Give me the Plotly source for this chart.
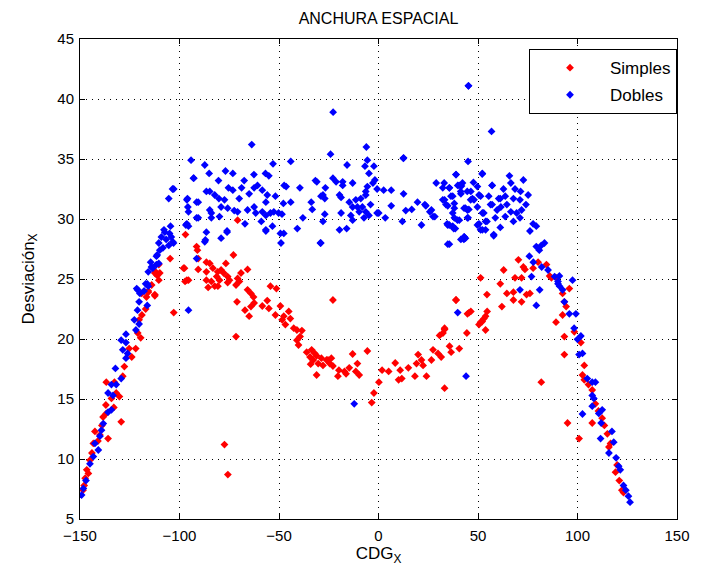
import plotly.graph_objects as go

# ---- Simples (red) ----
simples_x = [
    -148.5, -147.9, -147.4, -145.8, -146.6, -145.0, -144.0, -143.3, -142.5, -141.0, -140.0, -139.0,
    -135.9, -138.4, -136.8, -137.0, -129.3, -134.2, -133.0, -130.2, -131.8, -136.8, -132.7, -128.5,
    -127.7, -125.3, -124.0, -122.0, -121.0, -119.5, -120.3, -118.9, -117.0, -115.7, -114.0, -112.4,
    -112.4, -109.9, -111.2, -110.4, -112.0, -110.4, -116.6, -119.0, -115.7, -112.4, -102.9, -104.7,
    -97.0, -97.5, -96.3,
    -91.4, -91.0, -90.6, -86.5, -84.8, -90.6, -98.0, -86.5, -83.2, -80.8, -76.7, -72.9, -79.1, -77.8,
    -75.8, -81.3, -86.5, -84.0, -95.5, -97.2, -79.9, -74.9, -70.8, -65.8, -69.1, -69.9, -82.3, -85.6,
    -80.7, -75.8, -71.6, -65.8, -64.1, -62.8, -71.1, -62.5, -64.1, -67.1, -65.0, -58.4, -55.9, -55.1,
    -54.3, -51.3, -51.8, -49.3, -47.6, -48.4, -46.8, -45.1, -44.3, -42.6, -41.0, -38.5, -39.4, -41.0,
    -40.2, -36.1, -33.6, -32.0, -34.4, -32.8, -31.1, -34.1, -30.3, -26.1, -24.5, -23.7, -22.9, -19.9,
    -17.1, -31.1, -20.4, -71.6, -77.4, -75.7, -22.9, -70.8, -28.7, -27.9, -25.4, -16.3, -14.7,
    -13.0, -10.6, -11.4, -9.7, -5.6, 0.2, -2.3, -3.4, 1.8, 5.1, 8.4, 10.9, 10.1, 11.7, 15.0, 18.3,
    19.1, 19.9, 21.6, 22.4, 24.1, 26.6, 27.4, 29.9, 31.5, 32.4, 30.7, 33.2, 35.7, 36.5, 33.2, 40.6,
    44.4, 45.5, 46.4, 50.5, 51.3, 53.0, 54.6, 53.8, 38.9,
    70.3, 72.8, 73.6, 62.9, 80.2, 84.4, 77.7, 68.6, 71.9, 51.3, 61.2, 54.5, 64.5, 67.8, 74.4, 76.1,
    67.8, 71.9, 62.0, 39.0, 44.7, 53.8, 52.1, 33.2, 86.9, 89.5, 86.0, 92.5, 95.9, 93.4, 94.3, 92.5,
    89.2, 93.4, 98.4, 101.7, 93.4, 103.4, 102.5, 103.4, 107.4, 109.0, 112.4, 107.4, 81.8, 95.0,
    100.8, 115.0, 115.8, 116.6, 119.9, 119.1, 122.3, 123.1, 113.5, 110.5, 105.5, 121.0,
]
simples_y = [
    7.4, 7.8, 8.4, 8.8, 9.1, 9.9, 10.5, 11.3, 12.3, 11.5, 12.0, 12.8,
    11.7, 13.5, 13.8, 14.5, 13.1, 15.05, 14.3, 15.2, 15.5, 16.4, 16.4, 16.9,
    17.7, 19.2, 18.5, 19.2, 20.5, 20.1, 21.6, 22.0, 22.5, 24.0, 24.5, 23.6,
    25.5, 25.5, 25.3, 24.9, 25.6, 26.2, 23.5, 23.8, 23.9, 23.7, 22.2, 26.7,
    28.7, 25.9, 24.9,
    27.7, 27.4, 26.7, 26.4, 26.3, 25.8, 25.9, 25.6, 25.9, 25.6, 26.3, 27.0, 25.75, 25.5,
    25.2, 25.2, 24.9, 24.8, 24.9, 24.8, 24.9, 24.9, 25.05, 25.8, 25.5, 24.8, 24.4, 24.3,
    24.4, 24.7, 24.5, 24.1, 23.8, 23.5, 23.1, 23.0, 22.7, 22.4, 21.9, 22.75, 23.2, 22.55,
    24.4, 24.2, 22.0, 22.75, 21.9, 21.6, 21.2, 22.3, 21.7, 20.9, 20.75, 20.7, 20.2, 19.9,
    19.5, 18.9, 19.1, 18.8, 18.5, 18.25, 18.6, 17.9, 17.95, 18.25, 17.95, 18.4, 17.75, 17.4,
    17.3, 17.0, 16.9, 20.2, 11.2, 8.7, 23.25, 29.9, 18.4, 17.8, 18.25, 17.1, 17.6,
    18.75, 17.95, 17.3, 17.0, 19.0, 16.4, 15.5, 14.7, 17.4, 17.3, 18.0, 17.4, 16.6, 16.7, 17.6, 16.9,
    17.95, 18.7, 18.25, 17.8, 16.9, 18.25, 19.1, 18.8, 18.5, 20.5, 20.3, 20.8, 19.4, 18.9, 15.9, 19.2,
    20.5, 22.2, 22.3, 21.2, 21.4, 21.7, 22.3, 20.75, 23.25,
    26.6, 26.0, 25.8, 25.75, 26.4, 26.2, 25.9, 25.1, 25.1, 25.1, 24.6, 23.7, 23.8, 23.9, 23.7, 23.8,
    23.25, 23.1, 22.7, 23.25, 22.1, 21.9, 21.45, 20.9, 25.1, 25.1, 25.25, 23.8, 24.2, 23.1, 22.7, 22.0,
    21.4, 20.2, 20.6, 19.7, 18.7, 17.8, 17.0, 16.6, 15.75, 14.6, 13.4, 13.0, 16.4, 13.0,
    11.7, 12.1, 11.0, 11.3, 9.5, 8.9, 7.4, 7.2, 12.8, 14.0, 16.2, 8.2,
]

# ---- Dobles (blue) ----
dobles_x = [
    -149.2, -148.3, -147.0, -145.0, -143.3, -140.8, -142.5, -140.0, -139.2, -138.3, -135.9, -134.2,
    -133.4, -135.9, -134.2, -131.8, -129.3, -132.2, -126.9, -126.1, -128.5, -126.9, -129.3, -126.9,
    -121.9, -120.3, -122.7, -121.1, -116.2, -120.3, -117.8, -121.1, -116.2, -113.4, -110.4, -114.5,
    -111.2, -105.4, -103.0, -110.4, -104.1, -107.4, -115.7, -114.1, -111.6, -111.6, -109.9, -108.3,
    -103.4, -106.7, -109.1, -105.0, -107.8, -104.5, -115.7, -117.0, -121.5, -119.9, -102.9, -105.4,
    -94.2, -93.0, -96.3, -91.4, -95.8, -95.5, -96.3, -91.4, -91.4, -87.3, -85.1, -76.9, -73.2, -92.8,
    -80.4, -67.5, -62.6, -56.8, -55.1, -53.0, -44.1, -31.7, -103.5, -96.0, -90.6, -86.5, -84.8, -82.3,
    -80.2, -77.4, -75.4, -73.2, -70.0, -68.8, -65.0, -62.5, -60.8, -58.4, -55.9, -56.6, -51.8, -47.4,
    -46.4, -47.8, -44.1, -39.5, -33.8, -33.3, -38.0, -28.9, -84.8, -84.0, -79.1, -75.8, -72.5, -70.8,
    -65.8, -62.5, -61.7, -58.4, -56.6, -54.3, -52.6, -50.2, -48.5, -79.9, -84.0, -90.6, -95.5, -96.8,
    -86.5, -76.1, -79.1, -67.1, -56.6, -53.3, -58.9, -49.3, -49.0, -40.8, -29.2, -87.0, -63.7, -95.5,
    -87.3, -76.1, -47.6, -56.6, -22.8,
    -24.1, -6.1, -5.6, -2.3, -6.8, -15.8, -4.8, -1.8, -2.8, -5.6, -6.4, -0.7, 2.6, 6.4, 12.6, 12.6,
    6.4, 19.6, 16.7, 13.7, 23.8, 25.8, 27.4, 21.6, 12.0, 3.4, 0.1, -22.9, -21.3, -18.0, -18.0, -13.0,
    -26.7, -27.9, -27.0, -19.6, -18.8, -14.7, -11.4, -8.9, -6.4, -13.0, -10.6, -8.1, -9.7, -6.4, -4.8,
    -7.3, -13.9, -13.0, -18.8, -27.0, -27.9, -19.6, -16.0, -29.0, -4.0, -0.7, -31.0,
    29.0, 32.3, 35.6, 38.9, 40.5, 42.2, 45.0, 41.3, 44.6, 46.3, 32.3, 36.4, 38.1, 34.8, 43.7, 45.4,
    37.3, 38.1, 39.7, 45.0, 35.6, 38.6, 42.9, 43.7, 35.6, 45.2, 56.8, 52.2, 57.1, 46.4, 49.7, 51.3,
    48.0, 56.3, 52.2, 53.8, 61.2, 50.5, 52.2, 57.9, 43.1, 34.5, 37.3,
    39.0, 52.1, 65.8, 72.8, 33.0, 35.6, 39.8, 41.7, 47.7, 57.1, 62.8, 66.5, 68.6, 71.4, 75.2, 33.2,
    37.3, 41.4, 47.2, 50.5, 55.4, 60.4, 63.7, 67.8, 71.1, 74.1, 23.3, 26.6, 28.3, 33.9, 38.1, 43.0,
    44.7, 49.7, 52.9, 57.1, 59.6, 61.5, 64.5, 66.5, 69.4, 71.9, 63.7, 67.8, 71.1, 58.7, 54.5, 49.7,
    51.3, 53.8, 61.2, 57.9, 44.7, 40.6, 34.8, 37.8, 41.4, 43.0, 34.8,
    77.7, 79.3, 76.1, 79.3, 81.8, 83.4, 80.8, 75.8, 77.8, 82.0, 85.2, 88.5, 90.2, 91.0, 76.9, 81.0,
    71.1, 79.3, 90.2, 90.9, 92.5, 97.5, 95.9, 99.2, 98.3, 93.4, 101.7, 100.0, 102.5, 100.8, 104.9,
    107.4, 109.0, 107.4, 108.2, 112.4, 110.7, 107.4, 102.5, 111.9, 111.6, 117.3, 118.2, 115.8, 119.4,
    120.7, 121.5, 123.1, 124.3, 125.6, 126.4,
    -12.2, 44.0, 39.8, 45.2, 12.5,
]
dobles_y = [
    7.0, 7.55, 8.2, 9.6, 10.2, 10.75, 11.3, 11.9, 12.4, 12.95, 13.9, 14.1,
    15.3, 15.5, 16.2, 16.2, 16.7, 17.55, 18.4, 18.8, 19.1, 19.7, 19.9, 20.4,
    20.75, 21.25, 21.6, 22.4, 22.8, 23.1, 24.0, 24.1, 24.6, 25.9, 26.3, 26.4,
    27.0, 27.8, 28.0, 28.0, 28.5, 28.9, 25.6, 26.0, 26.2, 26.9, 27.4, 27.6,
    28.1, 28.3, 28.5, 28.8, 29.1, 29.4, 24.4, 24.6, 24.2, 23.8, 32.5, 31.7,
    34.9, 33.4, 31.6, 31.4, 31.0, 30.6, 29.6, 30.1, 26.7, 34.5, 33.8, 34.0, 33.8, 33.4,
    33.2, 33.2, 33.7, 33.8, 33.6, 34.6, 34.8, 33.2, 32.5, 31.7, 31.4, 32.3, 32.3, 32.0,
    31.7, 31.6, 32.6, 32.4, 31.7, 32.6, 32.1, 32.6, 32.8, 32.4, 32.0, 31.4, 31.9, 32.8,
    32.7, 31.3, 31.4, 32.6, 31.4, 30.8, 30.1, 31.9, 30.75, 30.5, 31.0, 30.9, 30.7, 30.6,
    30.75, 31.0, 30.5, 30.6, 30.3, 30.5, 30.6, 30.5, 30.4, 30.2, 30.1, 30.1, 29.4, 29.5,
    28.9, 29.0, 28.4, 29.6, 29.1, 29.4, 29.8, 28.8, 28.0, 29.2, 28.0, 28.25, 36.2, 22.4,
    28.1, 28.9, 28.8, 29.0, 38.9,
    35.4, 36.0, 34.9, 34.4, 34.4, 34.5, 33.8, 33.25, 33.0, 32.7, 32.3, 32.5, 32.4, 32.4, 35.1, 32.1,
    31.1, 31.4, 30.8, 30.7, 31.1, 30.6, 30.2, 29.5, 29.8, 30.1, 30.5, 33.4, 33.1, 33.1, 32.8, 33.0,
    32.6, 32.0, 31.7, 32.0, 31.8, 31.4, 31.6, 31.7, 32.0, 31.0, 31.0, 31.0, 30.6, 30.6, 30.3,
    30.1, 30.3, 29.9, 30.5, 30.4, 29.8, 29.1, 29.2, 28.0, 31.2, 30.5, 33.1,
    33.0, 32.6, 32.6, 33.7, 32.8, 33.0, 34.8, 32.3, 32.3, 31.6, 31.6, 31.9, 31.3, 31.1, 30.9, 30.8,
    30.5, 30.1, 29.9, 30.1, 29.5, 29.2, 28.3, 28.4, 27.9, 41.1, 37.3, 33.8, 32.8, 32.3, 32.7, 31.9,
    31.6, 31.2, 30.5, 29.8, 31.7, 29.6, 29.1, 28.7, 28.5, 29.6, 29.4,
    33.7, 33.75, 33.6, 33.25, 33.0, 32.6, 32.8, 32.75, 33.05, 32.8, 32.5, 33.0, 32.5, 32.3, 32.0, 31.6,
    31.9, 32.1, 31.7, 32.0, 31.9, 31.7, 31.9, 31.7, 31.6, 31.2, 31.2, 30.75, 30.2, 31.2, 30.9, 30.9,
    30.75, 31.0, 30.5, 31.2, 30.75, 31.0, 31.2, 30.6, 30.5, 30.75, 30.2, 29.8, 30.1, 30.1, 29.8, 29.5,
    29.1, 29.1, 29.3, 28.6, 30.1, 29.9, 29.5, 29.2, 28.3, 28.5, 27.9,
    29.6, 29.4, 29.0, 27.7, 27.8, 28.0, 27.4, 26.9, 26.4, 26.0, 25.75, 25.2, 24.8, 24.4, 25.2, 24.1,
    24.1, 22.8, 24.6, 25.25, 24.1, 24.9, 22.1, 22.1, 20.9, 23.1, 20.25, 19.97, 18.8, 18.7, 16.7,
    16.4, 16.4, 15.3, 15.05, 14.1, 13.8, 14.4, 13.75, 13.0, 11.7, 12.3, 11.4, 10.5, 10.1,
    9.4, 9.1, 7.8, 7.4, 6.9, 6.4,
    14.6, 16.9, 22.2, 41.1, 35.05,
]

FONT = "Liberation Sans, Arial, sans-serif"

fig = go.Figure()
fig.add_trace(go.Scatter(x=simples_x, y=simples_y, mode="markers", name="Simples",
                         legendgroup="s",
                         marker=dict(symbol="diamond", size=6, color="#ff0000", line=dict(width=0))))
fig.add_trace(go.Scatter(x=dobles_x, y=dobles_y, mode="markers", name="Dobles",
                         legendgroup="d",
                         marker=dict(symbol="diamond", size=6, color="#0000ff", line=dict(width=0))))

axis_common = dict(
    showline=True, linecolor="black", linewidth=1, mirror="ticks",
    ticks="inside", ticklen=5, tickcolor="black",
    showgrid=True, gridcolor="black", gridwidth=1, griddash="1px,5px",
    zeroline=False, tickfont=dict(family=FONT, size=15, color="black"),
)

fig.update_layout(
    width=702, height=572,
    margin=dict(l=80, r=16, t=39, b=53),
    paper_bgcolor="white", plot_bgcolor="white",
    font=dict(family=FONT, size=15, color="black"),
    title=dict(text="ANCHURA ESPACIAL", x=0.5, xref="paper", xanchor="center",
               y=1 - 18 / 572, yref="container", yanchor="middle",
               font=dict(family=FONT, size=16, color="black")),
    xaxis=dict(range=[-150, 150], tickvals=[-150, -100, -50, 0, 50, 100, 150],
               ticklabelstandoff=3,
               title=dict(text="CDG<sub>X</sub>", standoff=4,
                          font=dict(family=FONT, size=17, color="black")),
               **axis_common),
    yaxis=dict(range=[5, 45], tickvals=[5, 10, 15, 20, 25, 30, 35, 40, 45],
               ticklabelstandoff=2,
               title=dict(text="Desviación<sub>X</sub>", standoff=18,
                          font=dict(family=FONT, size=17, color="black")),
               **axis_common),
    legend=dict(x=1.0, y=0.979, xanchor="right", yanchor="top",
                bgcolor="white", bordercolor="black", borderwidth=1,
                font=dict(family=FONT, size=17, color="black"),
                itemwidth=70, tracegroupgap=2),
    showlegend=True,
)

fig.write_html("out.html")
